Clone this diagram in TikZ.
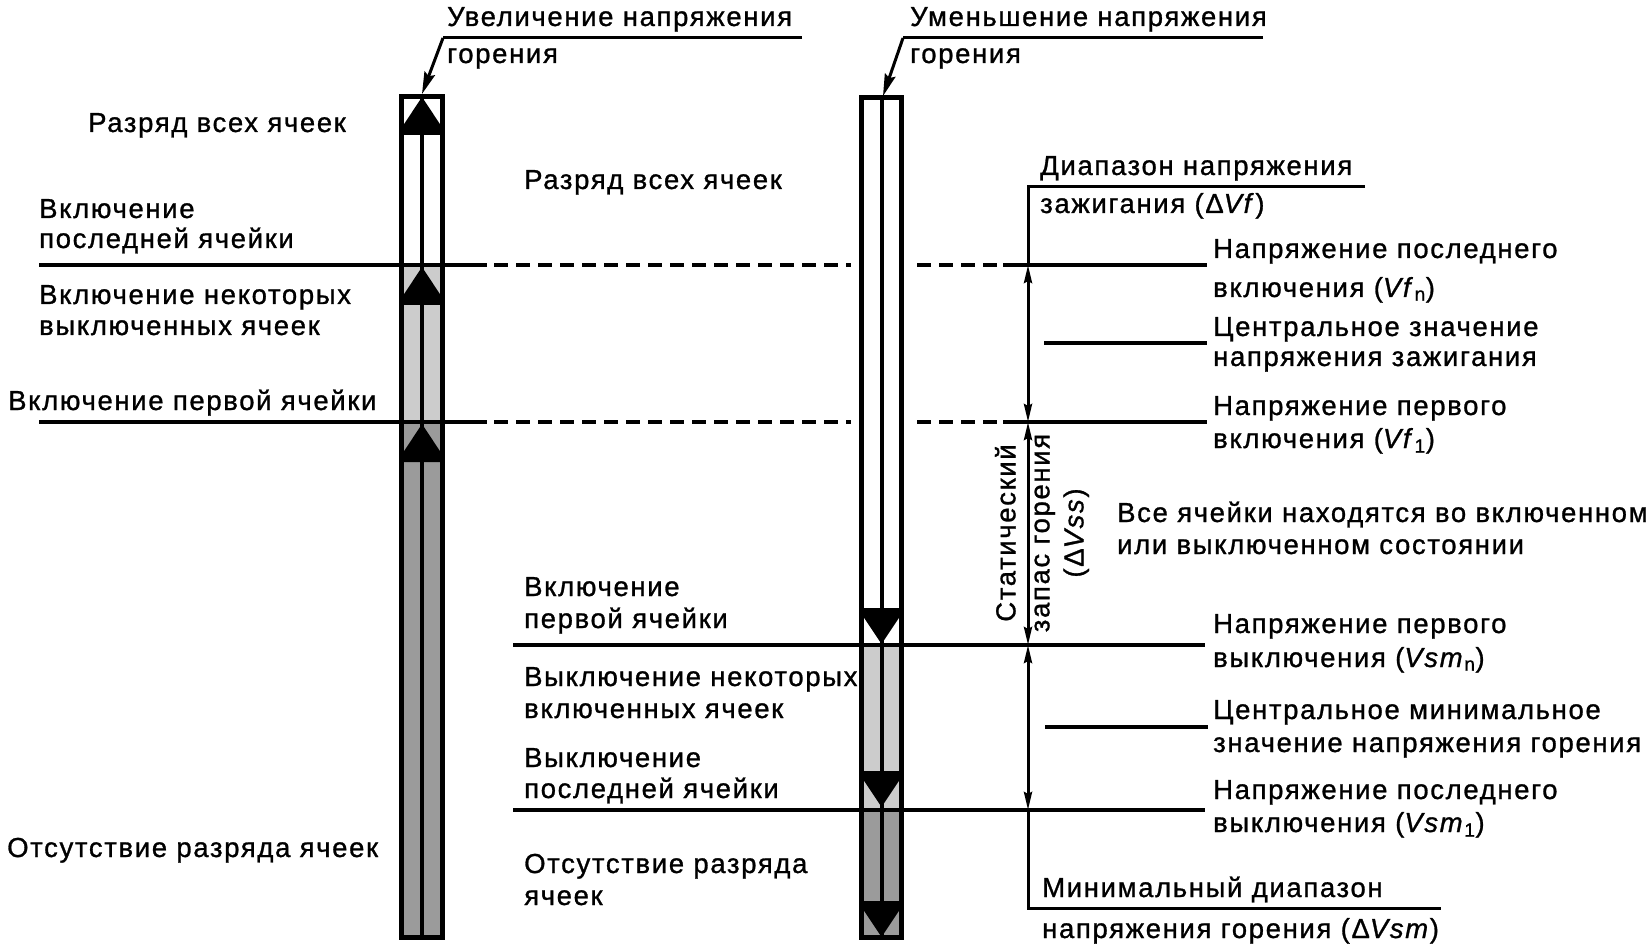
\documentclass[tikz,border=0pt]{standalone}
\usepackage{fontspec}
\setmainfont{Liberation Sans}[LetterSpace=6,FakeBold=1]
\usetikzlibrary{arrows.meta}
\definecolor{lgray}{HTML}{CCCCCC}
\definecolor{dgray}{HTML}{9B9B9B}
\newcommand\MyUpArr[3]{\fill ({(#1+#2)/2},#3) -- (#2,{#3+31}) -- (#2,{#3+38}) -- (#1,{#3+38}) -- (#1,{#3+31}) -- cycle;}
\newcommand\MyDnArr[3]{\fill ({(#1+#2)/2},#3) -- (#2,{#3-30}) -- (#2,{#3-36}) -- (#1,{#3-36}) -- (#1,{#3-30}) -- cycle;}
\begin{document}
\begin{tikzpicture}[x=1pt,y=-1pt,
  lbl/.style={anchor=base west, inner sep=0pt, font=\fontsize{27.5}{30}\selectfont},
  barline/.style={line width=5pt},
  innerline/.style={line width=4.5pt},
  hline/.style={line width=4.5pt},
  dline/.style={line width=4.5pt, dash pattern=on 14pt off 8pt},
  dimline/.style={line width=3pt},
  dimarr/.style={dimline, {Stealth[length=18pt,width=8pt,inset=2pt]}-{Stealth[length=18pt,width=8pt,inset=2pt]}},
  leader/.style={line width=3pt},
  leadarr/.style={line width=3pt, -{Stealth[length=22pt,width=11pt,inset=3pt]}},
  shortline/.style={line width=4pt}]
\useasboundingbox (0,0) rectangle (1651,949);

% ---------- left bar ----------
\fill[white] (401.5,96.5) rectangle (442.5,265);
\fill[lgray] (401.5,265) rectangle (442.5,422);
\fill[dgray] (401.5,422) rectangle (442.5,937.5);
\draw[innerline] (422,96.5) -- (422,937.5);
\MyUpArr{401.5}{442.5}{97}
\MyUpArr{401.5}{442.5}{267}
\MyUpArr{401.5}{442.5}{424}
\draw[barline] (401.5,96.5) rectangle (442.5,937.5);

% ---------- right bar ----------
\fill[white] (861.5,97.5) rectangle (901.5,645);
\fill[lgray] (861.5,645) rectangle (901.5,810);
\fill[dgray] (861.5,810) rectangle (901.5,937.5);
\draw[innerline] (882,97.5) -- (882,937.5);
\MyDnArr{861.5}{901.5}{644}
\MyDnArr{861.5}{901.5}{807}
\MyDnArr{861.5}{901.5}{937}
\draw[barline] (861.5,97.5) rectangle (901.5,937.5);

% ---------- horizontal level lines ----------
\draw[hline] (39,265) -- (487,265);
\draw[dline] (494,265) -- (851,265);
\draw[dline] (917,265) -- (1000,265);
\draw[hline] (1003,265) -- (1207,265);
\draw[hline] (39,422) -- (487,422);
\draw[dline] (494,422) -- (851,422);
\draw[dline] (917,422) -- (1000,422);
\draw[hline] (1003,422) -- (1207,422);
\draw[hline] (513,645) -- (1205,645);
\draw[hline] (513,810) -- (1205,810);
\draw[shortline] (1044,343) -- (1207,343);
\draw[shortline] (1045,727) -- (1208,727);

% ---------- dimension line ----------
\coordinate (d0) at (1028,187);
\coordinate (d1) at (1028,265);
\coordinate (d2) at (1028,422);
\coordinate (d3) at (1028,645);
\coordinate (d4) at (1028,810);
\coordinate (d5) at (1028,908);
\coordinate (dTopEnd) at (1365,187);
\coordinate (dBotEnd) at (1441,908);
\draw[dimline] (dTopEnd) -- (d0) -- (d1);
\draw[dimarr] (d1) -- (d2);
\draw[dimarr] (d2) -- (d3);
\draw[dimarr] (d3) -- (d4);
\draw[dimline] (d4) -- (d5) -- (dBotEnd);

% ---------- leaders ----------
\coordinate (la0) at (802,38);
\coordinate (la1) at (443,38);
\coordinate (la2) at (422,94);
\coordinate (lb0) at (1263,38);
\coordinate (lb1) at (903,38);
\coordinate (lb2) at (883,96);
\draw[leader] (la0) -- (la1);
\draw[leadarr] (la1) -- (la2);
\draw[leader] (lb0) -- (lb1);
\draw[leadarr] (lb1) -- (lb2);

% ---------- texts: top ----------
\node[lbl] (ta1) at (447,26) {Увеличение напряжения};
\node[lbl] (ta2) at (447,63) {горения};
\node[lbl] (tb1) at (910,26) {Уменьшение напряжения};
\node[lbl] (tb2) at (910,63) {горения};

% ---------- texts: left ----------
\node[lbl] (l1) at (88,132) {Разряд всех ячеек};
\node[lbl] (l2a) at (39,218) {Включение};
\node[lbl] (l2b) at (39,248) {последней ячейки};
\node[lbl] (l3a) at (39,304) {Включение некоторых};
\node[lbl] (l3b) at (39,335) {выключенных ячеек};
\node[lbl] (l4) at (8,410) {Включение первой ячейки};
\node[lbl] (l5) at (7,857) {Отсутствие разряда ячеек};

% ---------- texts: middle ----------
\node[lbl] (m1) at (524,189) {Разряд всех ячеек};
\node[lbl] (m2a) at (524,596) {Включение};
\node[lbl] (m2b) at (524,628) {первой ячейки};
\node[lbl] (m3a) at (524,686) {Выключение некоторых};
\node[lbl] (m3b) at (524,718) {включенных ячеек};
\node[lbl] (m4a) at (524,767) {Выключение};
\node[lbl] (m4b) at (524,798) {последней ячейки};
\node[lbl] (m5a) at (524,873) {Отсутствие разряда};
\node[lbl] (m5b) at (524,905) {ячеек};

% ---------- texts: right ----------
\node[lbl] (r0a) at (1040,175) {Диапазон напряжения};
\node[lbl] (r0b) at (1040,213) {зажигания (Δ\textit{Vf})};
\node[lbl] (r1a) at (1213,258) {Напряжение последнего};
\node[lbl] (r1b) at (1213,297) {включения (\textit{Vf}\textsubscript{n})};
\node[lbl] (r2a) at (1213,336) {Центральное значение};
\node[lbl] (r2b) at (1213,366) {напряжения зажигания};
\node[lbl] (r3a) at (1213,415) {Напряжение первого};
\node[lbl] (r3b) at (1213,448) {включения (\textit{Vf}\textsubscript{1})};
\node[lbl] (r4a) at (1117,522) {Все ячейки находятся во включенном};
\node[lbl] (r4b) at (1117,554) {или выключенном состоянии};
\node[lbl] (r5a) at (1213,633) {Напряжение первого};
\node[lbl] (r5b) at (1213,667) {выключения (\textit{Vsm}\textsubscript{n})};
\node[lbl] (r6a) at (1213,719) {Центральное минимальное};
\node[lbl] (r6b) at (1213,752) {значение напряжения горения};
\node[lbl] (r7a) at (1213,799) {Напряжение последнего};
\node[lbl] (r7b) at (1213,832) {выключения (\textit{Vsm}\textsubscript{1})};
\node[lbl] (r8a) at (1042,897) {Минимальный диапазон};
\node[lbl] (r8b) at (1042,938) {напряжения горения (Δ\textit{Vsm})};

\node[rotate=90, align=center, inner sep=0pt, font=\fontsize{27.5}{34}\selectfont] (rot) at (1042,533) {Статический\\запас горения\\(Δ\textit{Vss})};
\end{tikzpicture}
\end{document}
